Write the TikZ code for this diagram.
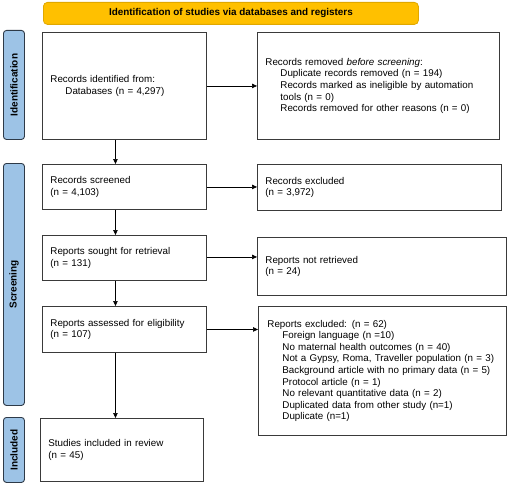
\documentclass[tikz,border=0pt]{standalone}
\usepackage{fontspec}
\setmainfont{Liberation Sans}
\usetikzlibrary{arrows.meta}
\definecolor{bannerfill}{HTML}{FFC000}
\definecolor{bannerdraw}{HTML}{E0A800}
\definecolor{sidefill}{HTML}{9DC3E6}
\definecolor{sidedraw}{HTML}{2E3A48}
\definecolor{boxdraw}{HTML}{3A3A3A}
\newcommand{\ind}{\hspace*{15pt}}
\begin{document}
\begin{tikzpicture}[x=1pt,y=-1pt,
  box/.style={draw=boxdraw,line width=0.9pt,fill=white,anchor=north west,rectangle,
    inner xsep=8pt,inner ysep=0pt,align=left,
    font=\fontsize{9.8}{11.6}\selectfont},
  sidelab/.style={draw=sidedraw,line width=0.9pt,fill=sidefill,rounded corners=3pt,
    anchor=north west,inner sep=0pt,minimum width=21pt},
  sidetxt/.style={rotate=90,font=\fontsize{10}{12}\selectfont\bfseries},
  arr/.style={-{Triangle[length=5pt,width=4.5pt]},line width=0.7pt,black}]
\useasboundingbox (0,0) rectangle (508,484);
% banner
\node[draw=bannerdraw,line width=0.8pt,fill=bannerfill,rounded corners=4pt,anchor=north west,
  minimum width=375pt,minimum height=22pt,inner sep=0pt,
  font=\fontsize{9.9}{12}\selectfont\bfseries] (banner) at (43,2)
  {Identification of studies via databases and registers};
% side labels
\node[sidelab,minimum height=109pt] (sidA) at (3,30) {};
\node[sidetxt] (sidAt) at (sidA.center) {Identification};
\node[sidelab,minimum height=242pt] (sidB) at (3,163) {};
\node[sidetxt] (sidBt) at (sidB.center) {Screening};
\node[sidelab,minimum height=65pt] (sidC) at (3,417) {};
\node[sidetxt] (sidCt) at (sidC.center) {Included};
% boxes
\node[box,text width=148pt,minimum height=107pt] (ident) at (42,32)
  {Records identified from:\\\ind Databases (n = 4,297)\\[6pt]};
\node[box,text width=226pt,minimum height=107pt] (removed) at (257,32)
  {Records removed \textit{before screening}:\\
   \ind Duplicate records removed (n = 194)\\
   \ind Records marked as ineligible by automation\\
   \ind tools (n = 0)\\
   \ind Records removed for other reasons (n = 0)};
\node[box,text width=148pt,minimum height=45pt] (screened) at (42,164)
  {Records screened\\(n = 4,103)};
\node[box,text width=228pt,minimum height=46pt] (excluded) at (257,164)
  {Records excluded\\(n = 3,972)};
\node[box,text width=148pt,minimum height=45pt] (sought) at (42,235)
  {Reports sought for retrieval\\(n = 131)};
\node[box,text width=233pt,minimum height=58pt] (notretr) at (257,237)
  {Reports not retrieved\\(n = 24)};
\node[box,text width=148pt,minimum height=46pt] (assessed) at (42,306)
  {Reports assessed for eligibility\\(n = 107)};
\node[box,inner xsep=9pt,text width=230pt,minimum height=129pt] (repexcl) at (258,306)
  {Reports excluded: (n = 62)\\
   \ind Foreign language (n =10)\\
   \ind No maternal health outcomes (n = 40)\\
   \ind Not a Gypsy, Roma, Traveller population (n = 3)\\
   \ind Background article with no primary data (n = 5)\\
   \ind Protocol article (n = 1)\\
   \ind No relevant quantitative data (n = 2)\\
   \ind Duplicated data from other study (n=1)\\
   \ind Duplicate (n=1)};
\node[box,text width=147pt,minimum height=63pt] (included) at (40,418)
  {Studies included in review\\(n = 45)};
% connectors
\draw[arr] (ident.east) -- (removed.west);
\draw[arr] (screened.east) -- (screened.east -| excluded.west);
\draw[arr] ([yshift=1pt]sought.east) -- ([yshift=1pt]sought.east -| notretr.west);
\draw[arr] (assessed.east) -- (assessed.east -| repexcl.west);
\draw[arr] ([xshift=-9pt]ident.south) -- ([xshift=-9pt]ident.south |- screened.north);
\draw[arr] ([xshift=-9pt]screened.south) -- ([xshift=-9pt]screened.south |- sought.north);
\draw[arr] ([xshift=-9pt]sought.south) -- ([xshift=-9pt]sought.south |- assessed.north);
\draw[arr] ([xshift=-9pt]assessed.south) -- ([xshift=-9pt]assessed.south |- included.north);
\end{tikzpicture}
\end{document}
